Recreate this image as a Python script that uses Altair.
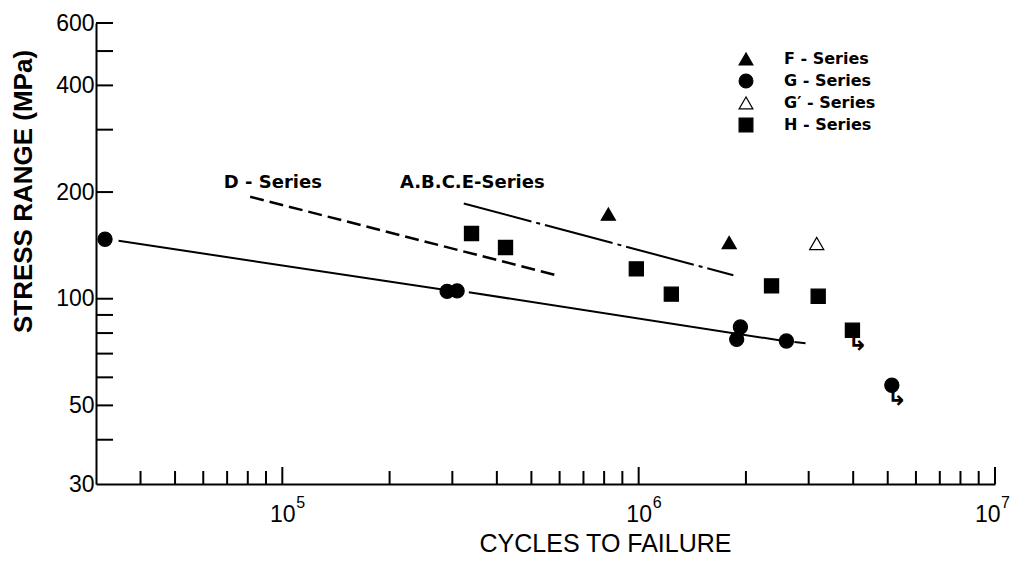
import altair as alt
import pandas as pd

# ---------------- data ----------------
SERIES = ["F - Series", "G - Series", "G\u2032 - Series", "H - Series"]

f_cycles = [822000, 1795000]
f_stress = [173.3, 144.1]
g_cycles = [31800, 290000, 309400, 1884000, 1930000, 2598000, 5134000]
g_stress = [147.2, 104.9, 105.2, 76.8, 83.2, 76.0, 57.0]
gp_cycles = [3160000]
gp_stress = [143.2]
h_cycles = [339600, 423000, 985000, 1235000, 2360000, 3190000, 3980000]
h_stress = [152.8, 139.5, 121.4, 103.0, 108.7, 101.6, 81.5]

runout_cycles = [3980000, 5134000]
runout_stress = [81.5, 57.0]

g_fit_cycles = [34700, 284500, 333700, 2532000, 2735000, 2940000]
g_fit_stress = [145.7, 106.0, 104.3, 76.1, 75.5, 74.9]
g_fit_segment = [1, 1, 2, 2, 3, 3]

d_cycles = [81240, 588000]
d_stress = [194, 116.5]
abce_cycles = [323000, 1844000]
abce_stress = [185.7, 116.5]

label_text = ["D - Series", "A.B.C.E-Series"]
label_cycles = [68500, 213900]
label_stress = [205, 205]

x_major = [1e5, 1e6, 1e7]
x_exponent = ["5", "6", "7"]
x_minor = [4e4, 5e4, 6e4, 7e4, 8e4, 9e4,
           2e5, 3e5, 4e5, 5e5, 6e5, 7e5, 8e5, 9e5,
           2e6, 3e6, 4e6, 5e6, 6e6, 7e6, 8e6, 9e6]
y_labeled = [30, 50, 100, 200, 400, 600]
y_ticks = [40, 50, 60, 70, 80, 90, 100, 200, 300, 400, 500, 600]

# ---------------- tables ----------------
pts = pd.DataFrame({
    "cycles": f_cycles + g_cycles + gp_cycles + h_cycles,
    "stress": f_stress + g_stress + gp_stress + h_stress,
    "series": [SERIES[0]] * len(f_cycles) + [SERIES[1]] * len(g_cycles)
    + [SERIES[2]] * len(gp_cycles) + [SERIES[3]] * len(h_cycles),
})
runout = pd.DataFrame({"cycles": runout_cycles, "stress": runout_stress})
gfit = pd.DataFrame({"cycles": g_fit_cycles, "stress": g_fit_stress, "seg": g_fit_segment})
dline = pd.DataFrame({"cycles": d_cycles, "stress": d_stress})
aline = pd.DataFrame({"cycles": abce_cycles, "stress": abce_stress})
labels = pd.DataFrame({"cycles": label_cycles, "stress": label_stress, "text": label_text})
xmaj = pd.DataFrame({"cycles": x_major, "exp": x_exponent})
xmin = pd.DataFrame({"cycles": x_minor})
ytk = pd.DataFrame({"stress": y_ticks})

W, H = 899, 461

xscale = alt.Scale(type="log", domain=[30000, 10000000], nice=False)
yscale = alt.Scale(type="log", domain=[30, 600], nice=False)

xaxis = alt.Axis(
    title="CYCLES TO FAILURE", values=x_major, grid=False, ticks=False, tickSize=0,
    labelExpr="'10'",
    labelFont="Liberation Sans", labelFontSize=23, labelColor="black",
    labelBaseline="top", labelPadding=19, labelFlush=True, labelFlushOffset=5,
    labelOverlap=False,
    domainColor="black", domainWidth=2,
    titleFont="Liberation Sans", titleFontSize=25, titleFontWeight="normal",
    titleColor="black", titleX=509, titleY=67, titleAlign="center",
    titleBaseline="alphabetic",
)
yaxis = alt.Axis(
    title="STRESS RANGE (MPa)", values=y_labeled, grid=False, ticks=False, tickSize=0,
    labelFont="Liberation Sans", labelFontSize=23, labelColor="black",
    labelPadding=2, labelFlush=False, labelOverlap=False,
    domainColor="black", domainWidth=2,
    titleFont="Liberation Sans", titleFontSize=26, titleFontWeight="bold",
    titleColor="black", titleX=-73, titleY=168, titleAngle=-90,
    titleAlign="center", titleBaseline="middle",
)

X = alt.X("cycles:Q", scale=xscale, axis=xaxis)
Y = alt.Y("stress:Q", scale=yscale, axis=yaxis)

legend = alt.Legend(
    title=None, orient="none", legendX=642, legendY=28, padding=0,
    labelFont="DejaVu Sans", labelFontWeight="bold", labelFontSize=16,
    labelColor="black", labelOffset=30, rowPadding=3, symbolSize=190,
    symbolStrokeColor="black", symbolStrokeWidth=1.2,
)

points = alt.Chart(pts).mark_point(filled=False, size=200, color="black",
                                   strokeWidth=1.2, opacity=1).encode(
    x=X, y=Y,
    shape=alt.Shape("series:N", scale=alt.Scale(
        domain=SERIES, range=["triangle-up", "circle", "triangle-up", "square"]),
        legend=legend),
    fill=alt.Fill("series:N", scale=alt.Scale(
        domain=SERIES, range=["black", "black", "white", "black"]), legend=legend),
    stroke=alt.Stroke("series:N", scale=alt.Scale(
        domain=SERIES, range=["black", "black", "black", "black"]), legend=legend),
)

arrows = alt.Chart(runout).mark_text(
    text="\u21b3", font="DejaVu Sans", fontWeight="bold", fontSize=24, align="left",
    baseline="top", dx=-5, dy=1, color="black").encode(x=X, y=Y)

g_line = alt.Chart(gfit).mark_line(color="black", strokeWidth=2).encode(
    x=X, y=Y, detail="seg:N")
d_line = alt.Chart(dline).mark_line(color="black", strokeWidth=2.5,
                                    strokeDash=[14, 6]).encode(x=X, y=Y)
a_line = alt.Chart(aline).mark_line(color="black", strokeWidth=2,
                                    strokeDash=[70, 5, 4, 5]).encode(x=X, y=Y)

ann = alt.Chart(labels).mark_text(
    font="DejaVu Sans", fontWeight="bold", fontSize=18, align="left",
    baseline="alphabetic", color="black").encode(x=X, y=Y, text="text:N")

xt_major = alt.Chart(xmaj).mark_rule(color="black", strokeWidth=2).encode(
    x=X, y=alt.value(H), y2=alt.value(H - 17))
xt_minor = alt.Chart(xmin).mark_rule(color="black", strokeWidth=2).encode(
    x=X, y=alt.value(H), y2=alt.value(H - 13))
yt = alt.Chart(ytk).mark_rule(color="black", strokeWidth=2).encode(
    y=Y, x=alt.value(0), x2=alt.value(17))
x_exp_mid = alt.Chart(xmaj.iloc[:2]).mark_text(
    font="Liberation Sans", fontSize=16, align="left", baseline="alphabetic",
    dx=14, color="black").encode(x=X, y=alt.value(H + 24), text="exp:N")
x_exp_end = alt.Chart(xmaj.iloc[2:]).mark_text(
    font="Liberation Sans", fontSize=16, align="left", baseline="alphabetic",
    dx=6, color="black").encode(x=X, y=alt.value(H + 24), text="exp:N")

chart = alt.layer(
    xt_major, xt_minor, yt, g_line, d_line, a_line, ann, points, arrows,
    x_exp_mid, x_exp_end
).properties(
    width=W, height=H,
    autosize=alt.AutoSizeParams(type="none"),
    padding={"left": 88, "right": 18, "top": 15, "bottom": 73},
    background="white",
).configure_view(stroke=None)

chart.save("out.html", embed_options={"renderer": "svg", "actions": False})
